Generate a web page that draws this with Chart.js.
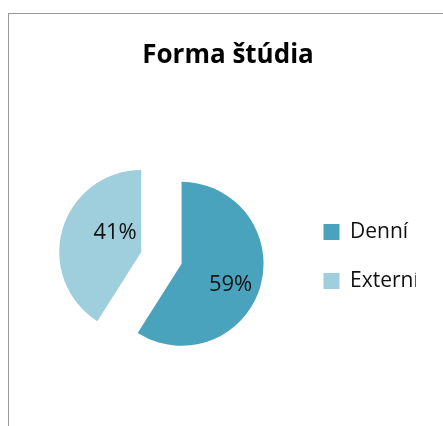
<!DOCTYPE html>
<html>
<head>
<meta charset="utf-8">
<script src="https://cdn.jsdelivr.net/npm/chart.js@4.4.0/dist/chart.umd.min.js"></script>
<style>
  html, body { margin: 0; padding: 0; width: 443px; height: 426px; overflow: hidden; background: #fff; }
  .frame { position: absolute; left: 8px; top: 13px; width: 600px; height: 600px;
           border-left: 1px solid #999; border-top: 1px solid #999; }
  #chart { position: absolute; left: -13px; top: 14px; width: 482px; height: 416px; }
</style>
</head>
<body>
<div class="frame"></div>
<canvas id="chart" width="482" height="416"></canvas>
<script>
const labels = ['Denní', 'Externí'];
const shares = [59, 41];
const colors = ['#4aa3bd', '#9fcedd'];

// where the % text sits in each slice: share of radius, turn off the bisector (deg)
const labelSpots = [{ dist: 0.65, turn: 7 }, { dist: 0.40, turn: 21 }];
const explodeBy = 42;   // Denní slice pulled out of the pie
const font = "'Open Sans'";

const explode = {
    id: 'explode',
    beforeDatasetsDraw(chart) {
        const area = chart.chartArea;
        const arc = chart.getDatasetMeta(0).data[0];
        const mid = (arc.startAngle + arc.endAngle) / 2;
        arc.x = (area.left + area.right) / 2 + Math.cos(mid) * explodeBy;
        arc.y = (area.top + area.bottom) / 2 + Math.sin(mid) * explodeBy;
    }
};

const pctLabels = {
    id: 'pctLabels',
    afterDatasetsDraw(chart) {
        const ctx = chart.ctx;
        const arcs = chart.getDatasetMeta(0).data;
        ctx.save();
        ctx.font = `22px ${font}`;
        ctx.fillStyle = '#111';
        ctx.textAlign = 'center';
        ctx.textBaseline = 'middle';
        arcs.forEach((arc, i) => {
            const spot = labelSpots[i];
            const a = (arc.startAngle + arc.endAngle) / 2 + spot.turn * Math.PI / 180;
            const r = arc.outerRadius * spot.dist;
            ctx.fillText(shares[i] + '%', arc.x + Math.cos(a) * r, arc.y + Math.sin(a) * r);
        });
        ctx.restore();
    }
};

// empty box at the far right so the plot sits left of the title centre
const rightGap = {
    id: 'rightGap',
    beforeInit(chart, args, opts) {
        Chart.layouts.addBox(chart, {
            position: 'right', weight: 3000, fullSize: true, options: {},
            top: 0, left: 0, right: 0, bottom: 0, width: 0, height: 0,
            isHorizontal() { return false; },
            update(maxW, maxH) { this.width = opts.size; this.height = maxH; },
            draw() {}
        });
    }
};

new Chart(document.getElementById('chart'), {
    type: 'pie',
    data: {
        labels: labels,
        datasets: [{
            data: shares,
            backgroundColor: colors,
            borderWidth: 0,
            radius: 82
        }]
    },
    options: {
        responsive: false,
        animation: false,
        layout: { padding: 0 },
        plugins: {
            rightGap: { size: 53 },
            tooltip: { enabled: false },
            title: {
                display: true,
                text: 'Forma štúdia',
                color: '#000',
                font: { family: font, size: 26, weight: 'bold' },
                padding: { top: 26, bottom: 3 }
            },
            legend: {
                position: 'right',
                fullSize: false,
                align: 'center',
                title: { display: true, text: '', padding: 0, font: { size: 7.5 } },
                labels: {
                    boxWidth: 16,
                    boxHeight: 16,
                    padding: 28,
                    color: '#111',
                    font: { family: font, size: 21 }
                }
            }
        }
    },
    plugins: [rightGap, explode, pctLabels]
});
</script>
</body>
</html>
